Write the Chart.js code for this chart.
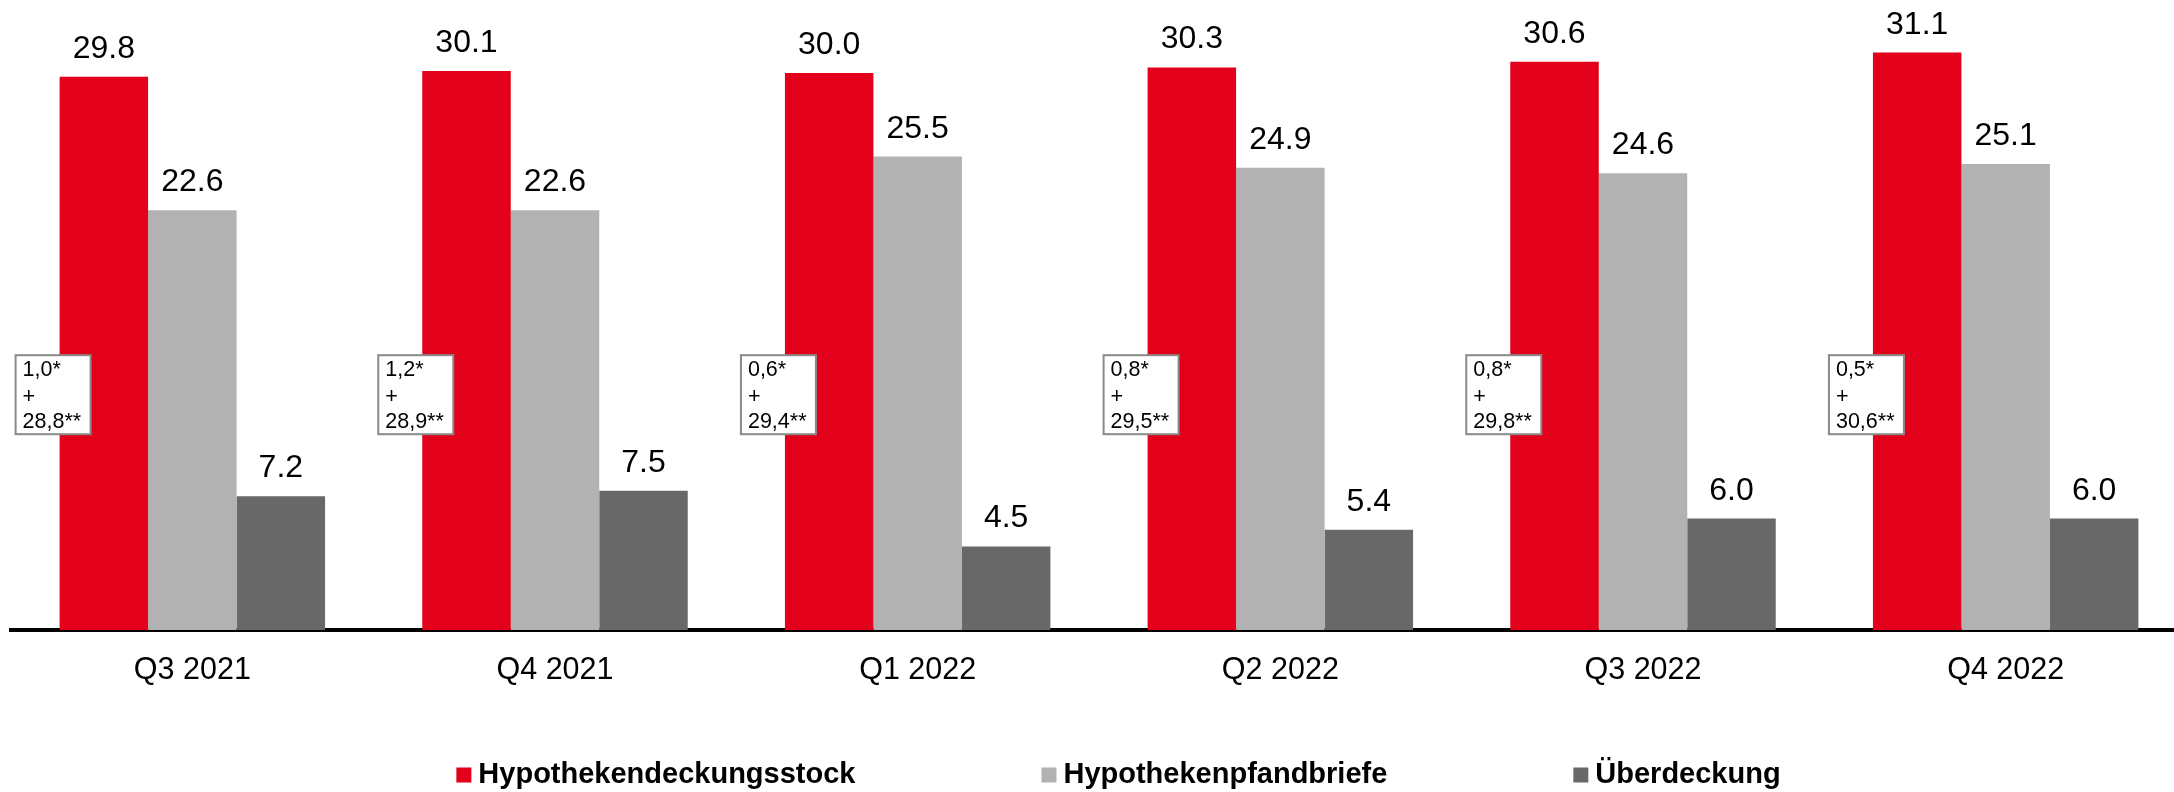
<!DOCTYPE html>
<html>
<head>
<meta charset="utf-8">
<script src="https://cdn.jsdelivr.net/npm/chart.js@4.4.1/dist/chart.umd.min.js"></script>
<style>
  html, body { margin: 0; padding: 0; overflow: hidden; background: #fff; }
  canvas { display: block; }
</style>
</head>
<body>
<canvas id="deckungChart" width="2187" height="792"></canvas>
<script>
// --- Data (Mrd. EUR) ---
const quarters = ['Q3 2021', 'Q4 2021', 'Q1 2022', 'Q2 2022', 'Q3 2022', 'Q4 2022'];
const deckungsstock = [29.8, 30.1, 30.0, 30.3, 30.6, 31.1];
const pfandbriefe = [22.6, 22.6, 25.5, 24.9, 24.6, 25.1];
const ueberdeckung = [7.2, 7.5, 4.5, 5.4, 6.0, 6.0];
const noteTop = ['1,0*', '1,2*', '0,6*', '0,8*', '0,8*', '0,5*'];
const noteBottom = ['28,8**', '28,9**', '29,4**', '29,5**', '29,8**', '30,6**'];
const seriesNames = ['Hypothekendeckungsstock', 'Hypothekenpfandbriefe', 'Überdeckung'];
const seriesColors = ['#e2001a', '#b2b2b2', '#686868'];

const FONT = "'Liberation Sans', Arial, sans-serif";
Chart.defaults.font.family = FONT;

// value labels above every bar
const valueLabels = {
    id: 'valueLabels',
    afterDatasetsDraw(chart) {
        const ctx = chart.ctx;
        ctx.save();
        ctx.font = `32px ${FONT}`;
        ctx.fillStyle = '#000';
        ctx.textAlign = 'center';
        ctx.textBaseline = 'alphabetic';
        chart.data.datasets.forEach((ds, i) => {
            chart.getDatasetMeta(i).data.forEach((bar, j) => {
                ctx.fillText(ds.data[j].toFixed(1), bar.x, bar.y - 19);
            });
        });
        ctx.restore();
    }
};

// small boxes with the split of the Deckungsstock
const noteBoxes = {
    id: 'noteBoxes',
    afterDatasetsDraw(chart) {
        const ctx = chart.ctx;
        const y = chart.scales.y;
        const top = y.getPixelForValue(14.8);
        ctx.save();
        chart.getDatasetMeta(0).data.forEach((bar, j) => {
            const left = bar.x - bar.width / 2 - 44;
            ctx.fillStyle = '#fff';
            ctx.fillRect(left, top, 75, 79);
            ctx.strokeStyle = '#8a8a8a';
            ctx.lineWidth = 2;
            ctx.strokeRect(left, top, 75, 79);
            ctx.fillStyle = '#000';
            ctx.font = `21.5px ${FONT}`;
            ctx.textAlign = 'left';
            ctx.textBaseline = 'middle';
            ctx.fillText(noteTop[j], left + 7, top + 15);
            ctx.fillText('+', left + 7, top + 42);
            ctx.fillText(noteBottom[j], left + 7, top + 67);
        });
        ctx.restore();
    }
};

// legend at the bottom
const bottomLegend = {
    id: 'bottomLegend',
    afterDraw(chart) {
        const ctx = chart.ctx;
        ctx.save();
        ctx.font = `bold 29px ${FONT}`;
        const gapBox = 7, gapItem = 186, box = 15;
        const widths = seriesNames.map(n => ctx.measureText(n).width);
        const total = widths.reduce((a, w) => a + box + gapBox + w, 0) + gapItem * (seriesNames.length - 1);
        let x = 1118.5 - total / 2;
        const cy = 775;
        seriesNames.forEach((name, i) => {
            ctx.fillStyle = seriesColors[i];
            ctx.fillRect(x, cy - 7.5, box, box);
            ctx.fillStyle = '#000';
            ctx.textBaseline = 'middle';
            ctx.textAlign = 'left';
            ctx.fillText(name, x + box + gapBox, cy);
            x += box + gapBox + widths[i] + gapItem;
        });
        ctx.restore();
    }
};

const ctx = document.getElementById('deckungChart').getContext('2d');
new Chart(ctx, {
    type: 'bar',
    data: {
        labels: quarters,
        datasets: [
            { label: seriesNames[0], data: deckungsstock, backgroundColor: seriesColors[0] },
            { label: seriesNames[1], data: pfandbriefe, backgroundColor: seriesColors[1] },
            { label: seriesNames[2], data: ueberdeckung, backgroundColor: seriesColors[2] }
        ]
    },
    options: {
        responsive: false,
        animation: false,
        devicePixelRatio: 1,
        layout: { padding: { left: 11, right: 0, top: 0, bottom: 0 } },
        datasets: {
            bar: { categoryPercentage: 0.732, barPercentage: 1.0, borderWidth: 0 }
        },
        plugins: {
            legend: { display: false },
            tooltip: { enabled: false }
        },
        scales: {
            x: {
                grid: { display: false, drawTicks: false },
                border: { display: true, color: '#000', width: 4 },
                ticks: { color: '#000', font: { size: 30.5 }, padding: 22 },
                afterFit(scale) { scale.height = 162; }
            },
            y: {
                display: false,
                min: 0,
                max: 33.93
            }
        }
    },
    plugins: [valueLabels, noteBoxes, bottomLegend]
});
</script>
</body>
</html>
